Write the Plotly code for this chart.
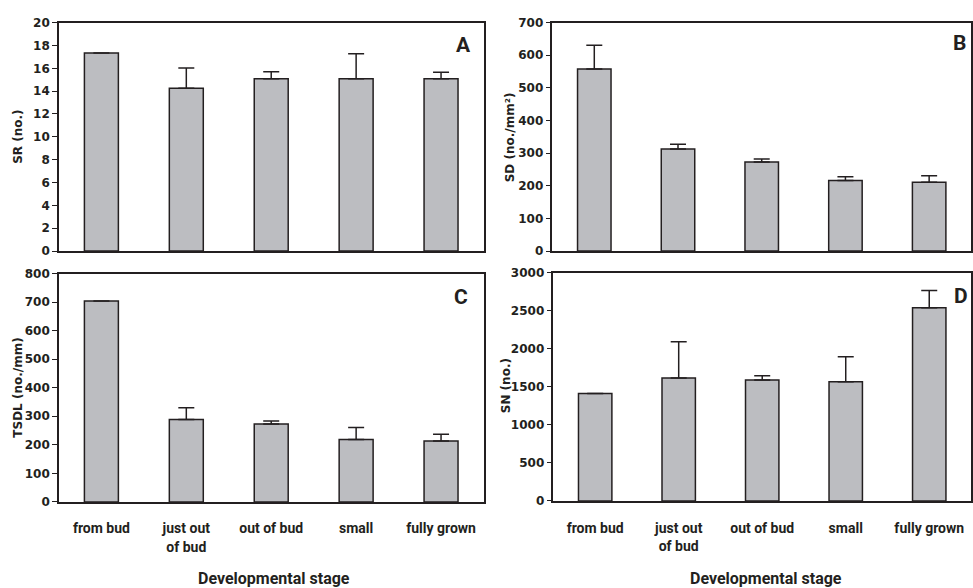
import plotly.graph_objects as go

W, H = 973, 588

stages = ["from bud", "just out<br>of bud", "out of bud", "small", "fully grown"]

sr_mean = [17.33, 14.25, 15.08, 15.08, 15.08]
sr_err = [0, 1.77, 0.62, 2.19, 0.57]

sd_mean = [558, 313, 273, 216, 211]
sd_err = [73, 14, 9, 12, 20]

tsdl_mean = [704, 289, 273, 219, 213]
tsdl_err = [0, 41, 10, 42, 24]

sn_mean = [1410, 1615, 1590, 1564, 2538]
sn_err = [0, 475, 55, 329, 227]

panel_letters = ["A", "B", "C", "D"]
y_titles = ["SR (no.)", "SD (no./mm²)", "TSDL (no./mm)", "SN (no.)"]
x_title = "Developmental stage"
y_ranges = [[0, 20], [0, 700], [0, 800], [0, 3000]]
y_dticks = [2, 100, 100, 500]

def px_x(p):
    return p / W

def px_y(p):
    return 1 - p / H

# plot-area rectangles in pixels: (left, right, top, bottom)
rects = [(59, 484, 16, 250), (553, 972, 16, 250), (59, 484, 273, 507), (554, 972, 272, 506)]
data = [(sr_mean, sr_err), (sd_mean, sd_err), (tsdl_mean, tsdl_err), (sn_mean, sn_err)]

BAR_FILL = "#bcbdc1"
DARK = "#231f20"
TICK_FONT = dict(family="DejaVu Sans", size=12, color=DARK, weight="bold")
CAT_FONT = dict(family="Roboto", size=14, color=DARK, weight="bold")

fig = go.Figure()
layout = dict(
    width=W, height=H,
    margin=dict(l=0, r=0, t=0, b=0),
    paper_bgcolor="white", plot_bgcolor="white",
    showlegend=False, bargap=0.6,
)

for i, ((means, errs), (l, r, t, b)) in enumerate(zip(data, rects)):
    n = i + 1
    xa = "x" if n == 1 else f"x{n}"
    ya = "y" if n == 1 else f"y{n}"
    fig.add_trace(go.Bar(
        x=stages, y=means, xaxis=xa, yaxis=ya,
        marker=dict(color=BAR_FILL, line=dict(color=DARK, width=1.5)),
        error_y=dict(type="data", symmetric=False, array=errs,
                     arrayminus=[0] * len(errs), color=DARK, thickness=1.5, width=8),
    ))
    xkey = "xaxis" if n == 1 else f"xaxis{n}"
    ykey = "yaxis" if n == 1 else f"yaxis{n}"
    layout[xkey] = dict(
        domain=[px_x(l), px_x(r)], anchor=ya, type="category",
        showline=True, linecolor=DARK, linewidth=1.5, mirror=True,
        ticks="", showgrid=False, zeroline=False,
        showticklabels=(n >= 3), tickfont=CAT_FONT, ticklabelstandoff=13,
    )
    layout[ykey] = dict(
        domain=[px_y(b), px_y(t)], anchor=xa, range=y_ranges[i], dtick=y_dticks[i],
        showline=True, linecolor=DARK, linewidth=1.5, mirror=True,
        ticks="outside", ticklen=5, tickwidth=1.2, tickcolor=DARK,
        showgrid=False, zeroline=False, tickfont=TICK_FONT,
    )

fig.update_layout(**layout)

annots = []
letter_pos = [(464, 39), (960, 37), (461, 297), (962, 296)]
for letter, (x, y) in zip(panel_letters, letter_pos):
    annots.append(dict(text=f"<b>{letter}</b>", x=px_x(x), y=px_y(y), xref="paper", yref="paper",
                       showarrow=False, xanchor="center", yanchor="middle",
                       font=dict(family="Roboto", size=21, color=DARK)))

ytitle_pos = [(18, 133), (510, 133), (18, 390), (506, 388)]
for txt, (x, y) in zip(y_titles, ytitle_pos):
    annots.append(dict(text=f"<b>{txt}</b>", x=px_x(x), y=px_y(y), xref="paper", yref="paper",
                       showarrow=False, xanchor="center", yanchor="middle", textangle=-90,
                       font=dict(family="DejaVu Sans", size=12, color=DARK)))

for x in (274, 767):
    annots.append(dict(text=f"<b>{x_title}</b>", x=px_x(x), y=px_y(585), xref="paper", yref="paper",
                       showarrow=False, xanchor="center", yanchor="middle",
                       font=dict(family="Roboto", size=16, color=DARK)))

fig.update_layout(annotations=annots)
fig.write_html(
    "out.html",
    config={"displayModeBar": False},
    post_script="document.body.style.margin='0';document.body.style.overflow='hidden';",
)
